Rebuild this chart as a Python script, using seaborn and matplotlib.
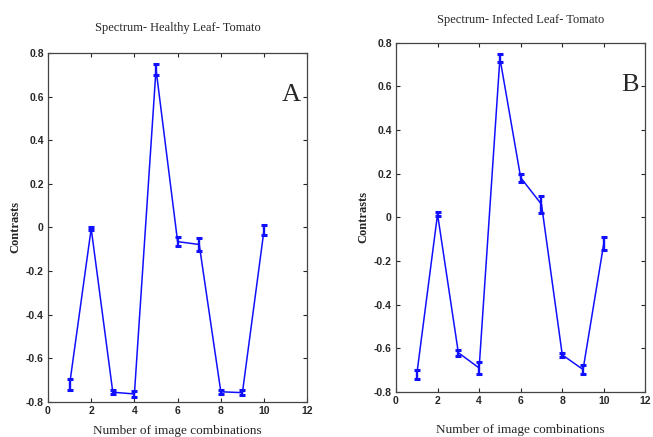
import numpy as np
import pandas as pd
import matplotlib
matplotlib.use("Agg")
import matplotlib.pyplot as plt
import seaborn as sns

# image combination index
combos = [1, 2, 3, 4, 5, 6, 7, 8, 9, 10]

# healthy leaf: mean contrast and error half-width
healthy_mean = [-0.72, -0.005, -0.755, -0.763, 0.725, -0.065, -0.078, -0.753, -0.757, -0.012]
healthy_err = [0.025, 0.005, 0.010, 0.015, 0.025, 0.020, 0.028, 0.010, 0.012, 0.023]

# infected leaf
infected_mean = [-0.72, 0.015, -0.62, -0.69, 0.73, 0.182, 0.06, -0.63, -0.697, -0.118]
infected_err = [0.022, 0.010, 0.014, 0.028, 0.020, 0.018, 0.040, 0.010, 0.022, 0.030]

xticks = [0, 2, 4, 6, 8, 10, 12]
yticks = [-0.8, -0.6, -0.4, -0.2, 0, 0.2, 0.4, 0.6, 0.8]
ytick_labels = ["-0.8", "-0.6", "-0.4", "-0.2", "0", "0.2", "0.4", "0.6", "0.8"]

sns.set_style("ticks")
plt.rcParams["font.family"] = ["Liberation Sans Narrow", "Liberation Sans", "DejaVu Sans"]

blue = "#1010ff"
serif = ["Liberation Serif", "DejaVu Serif"]

fig = plt.figure(figsize=(6.53, 4.37), dpi=100)
ax_a = fig.add_axes([0.0735, 0.080, 0.397, 0.799])
ax_b = fig.add_axes([0.6064, 0.103, 0.382, 0.799])

panels = [
    (ax_a, healthy_mean, healthy_err, "Spectrum- Healthy Leaf- Tomato", "A", 16),
    (ax_b, infected_mean, infected_err, "Spectrum- Infected Leaf- Tomato", "B", 14),
]

for ax, mean, err, title, letter, tpad in panels:
    df = pd.DataFrame({"combo": combos, "contrast": mean})
    sns.lineplot(data=df, x="combo", y="contrast", ax=ax, color=blue, linewidth=1.1)
    ax.errorbar(combos, mean, yerr=err, fmt="none", ecolor=blue, elinewidth=1.7,
                capsize=2.2, capthick=2.2)
    ax.set_xlim(0, 12)
    ax.set_ylim(-0.8, 0.8)
    ax.set_xticks(xticks)
    ax.set_yticks(yticks)
    ax.set_yticklabels(ytick_labels)
    ax.tick_params(direction="in", length=3, width=0.8, top=True, right=True,
                   labelsize=7.5, pad=3)
    for lab in ax.get_xticklabels() + ax.get_yticklabels():
        lab.set_fontweight("bold")
    for sp in ax.spines.values():
        sp.set_visible(True)
        sp.set_linewidth(0.9)
        sp.set_color("#444444")
    ax.set_xlabel("Number of image combinations", fontsize=9.5, family=serif, labelpad=6)
    ax.set_ylabel("Contrasts", fontsize=9, family=serif, fontweight="bold", labelpad=3)
    ax.set_title(title, fontsize=9, family=serif, pad=tpad)
    ax.text(0.94, 0.88, letter, transform=ax.transAxes, fontsize=19, family=serif,
            ha="center", va="center")

ax_b.xaxis.labelpad = 13

fig.savefig("out.png", dpi=100, facecolor="white")
